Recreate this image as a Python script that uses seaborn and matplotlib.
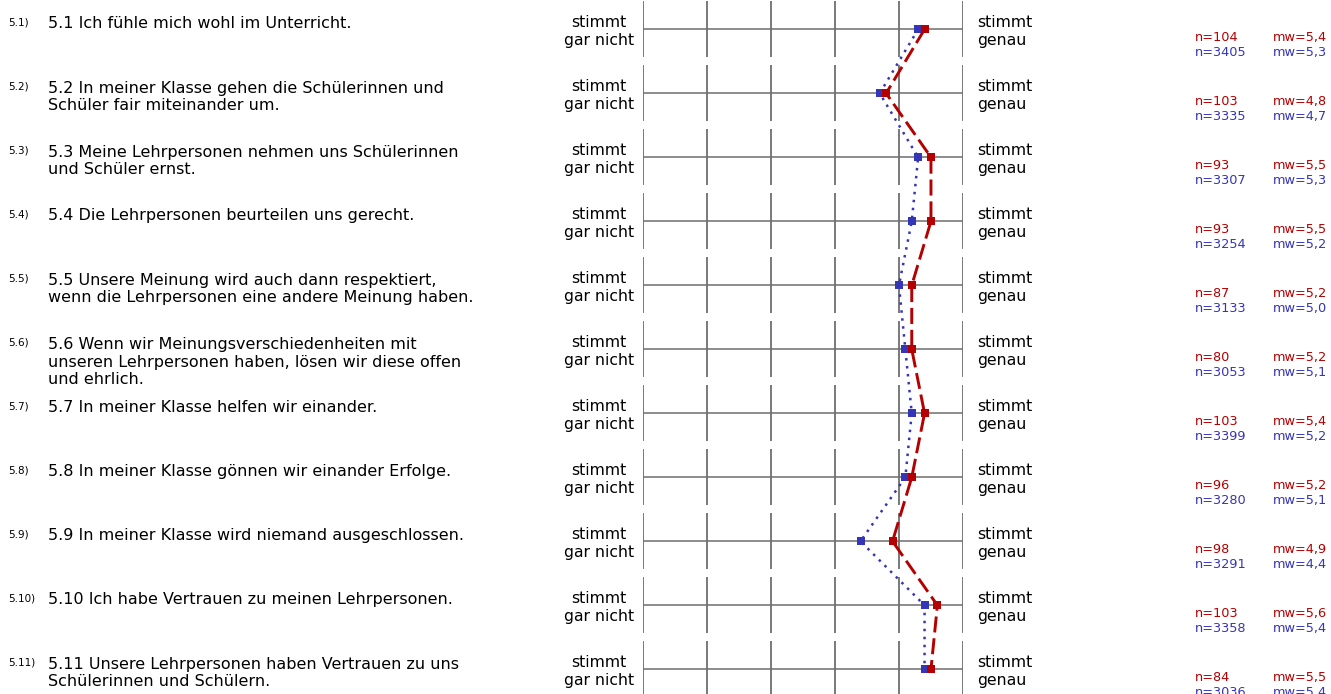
import matplotlib
matplotlib.use("Agg")
import matplotlib.pyplot as plt
import matplotlib.transforms as mtransforms
import seaborn as sns
import pandas as pd

# Daten
items = [
    "5.1 Ich fühle mich wohl im Unterricht.",
    "5.2 In meiner Klasse gehen die Schülerinnen und\nSchüler fair miteinander um.",
    "5.3 Meine Lehrpersonen nehmen uns Schülerinnen\nund Schüler ernst.",
    "5.4 Die Lehrpersonen beurteilen uns gerecht.",
    "5.5 Unsere Meinung wird auch dann respektiert,\nwenn die Lehrpersonen eine andere Meinung haben.",
    "5.6 Wenn wir Meinungsverschiedenheiten mit\nunseren Lehrpersonen haben, lösen wir diese offen\nund ehrlich.",
    "5.7 In meiner Klasse helfen wir einander.",
    "5.8 In meiner Klasse gönnen wir einander Erfolge.",
    "5.9 In meiner Klasse wird niemand ausgeschlossen.",
    "5.10 Ich habe Vertrauen zu meinen Lehrpersonen.",
    "5.11 Unsere Lehrpersonen haben Vertrauen zu uns\nSchülerinnen und Schülern.",
]
item_nr = ["5.1)", "5.2)", "5.3)", "5.4)", "5.5)", "5.6)", "5.7)", "5.8)", "5.9)", "5.10)", "5.11)"]

klasse_mw = [5.4, 4.8, 5.5, 5.5, 5.2, 5.2, 5.4, 5.2, 4.9, 5.6, 5.5]
klasse_n = [104, 103, 93, 93, 87, 80, 103, 96, 98, 103, 84]
alle_mw = [5.3, 4.7, 5.3, 5.2, 5.0, 5.1, 5.2, 5.1, 4.4, 5.4, 5.4]
alle_n = [3405, 3335, 3307, 3254, 3133, 3053, 3399, 3280, 3291, 3358, 3036]

skala = [1, 2, 3, 4, 5, 6]
links = "stimmt\ngar nicht"
rechts = "stimmt\ngenau"

rot = "#b40000"
blau = "#3535b8"
grau = "#6e6e6e"

rows = list(range(len(items)))
df_k = pd.DataFrame({"mw": klasse_mw, "row": rows})
df_a = pd.DataFrame({"mw": alle_mw, "row": rows})

sns.set_style("white")
plt.rcParams["font.family"] = ["DejaVu Sans"]
plt.rcParams["text.color"] = "black"

W, H = 1331, 694
fig = plt.figure(figsize=(W / 100, H / 100), dpi=100)
x0, x1 = 642.7, 963.0
ax = fig.add_axes([x0 / W, 0, (x1 - x0) / W, 1])

# Raster
for i in rows:
    ax.vlines(skala, i - 0.44, i + 0.44, color=grau, lw=1.3, zorder=1)
ax.hlines(rows, 1, 6, color=grau, lw=1.1, zorder=1)

# Linien
sns.lineplot(data=df_a, x="mw", y="row", orient="y", sort=False, ax=ax,
             color=blau, lw=1.8, linestyle=(0, (1, 2.2)), marker="s",
             markersize=6, markeredgewidth=0, zorder=3)
sns.lineplot(data=df_k, x="mw", y="row", orient="y", sort=False, ax=ax,
             color=rot, lw=2.1, linestyle=(0, (5.5, 2)), marker="s",
             markersize=6, markeredgewidth=0, zorder=4)
ax.set_xlim(1, 6)
ax.set_ylim((H - 29.3) / 64, -29.3 / 64)
ax.axis("off")

tr = mtransforms.blended_transform_factory(fig.transFigure, ax.transData)
px = 1 / 64
for i in rows:
    nlines = items[i].count("\n")
    ax.text(8 / W, i - 4 * px, item_nr[i], transform=tr, fontsize=7.5,
            va="baseline", ha="left", clip_on=False)
    ax.text(48 / W, i + (nlines * 18 - 1) * px, items[i], transform=tr, fontsize=11.5,
            va="baseline", ha="left", linespacing=1.2, clip_on=False)
    ax.text(599 / W, i + 2 * px, links, transform=tr, fontsize=11.3,
            va="center", ha="center", linespacing=1.2, clip_on=False)
    ax.text(977 / W, i + 2 * px, rechts, transform=tr, fontsize=11.3,
            va="center", ha="left", linespacing=1.2, clip_on=False)
    ax.text(1195 / W, i + 11.4 * px, f"n={klasse_n[i]}", transform=tr,
            fontsize=9.3, color=rot, va="baseline", clip_on=False)
    ax.text(1273 / W, i + 11.4 * px, f"mw={klasse_mw[i]:.1f}".replace(".", ","),
            transform=tr, fontsize=9.3, color=rot, va="baseline", clip_on=False)
    ax.text(1195 / W, i + 26.7 * px, f"n={alle_n[i]}", transform=tr,
            fontsize=9.3, color=blau, va="baseline", clip_on=False)
    ax.text(1273 / W, i + 26.7 * px, f"mw={alle_mw[i]:.1f}".replace(".", ","),
            transform=tr, fontsize=9.3, color=blau, va="baseline", clip_on=False)

fig.savefig("out.png", dpi=100, facecolor="white")
